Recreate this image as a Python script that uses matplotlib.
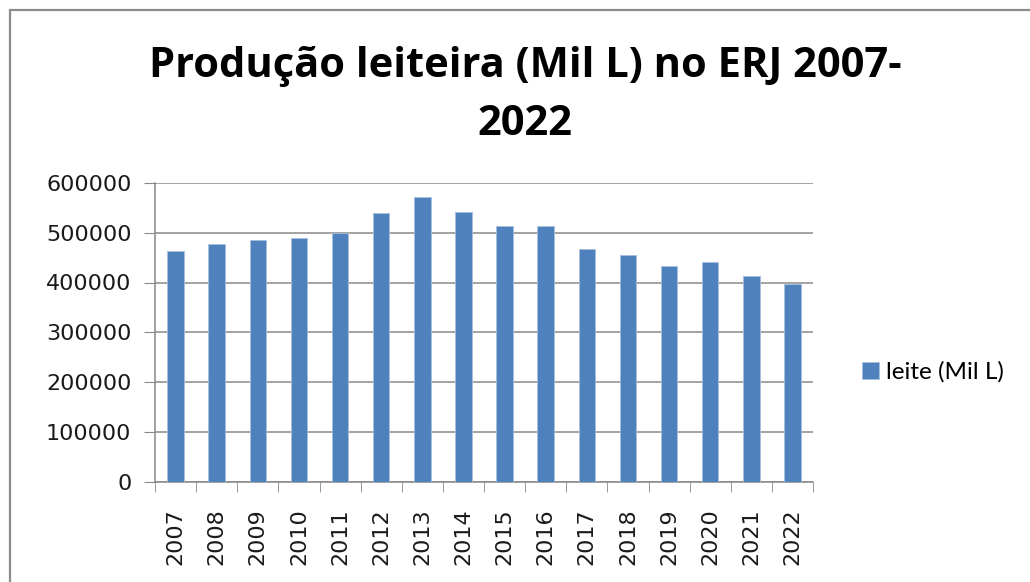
#!/usr/bin/env python3

import matplotlib
matplotlib.use("Agg")
import matplotlib.pyplot as plt
from matplotlib.patches import Rectangle
import numpy as np

years = ["2007", "2008", "2009", "2010", "2011", "2012", "2013", "2014",
         "2015", "2016", "2017", "2018", "2019", "2020", "2021", "2022"]
leite = [464000, 478000, 485000, 490000, 500000, 539000, 571000, 542000,
         514000, 514000, 467000, 456000, 433000, 441000, 413000, 397000]
yticks = [0, 100000, 200000, 300000, 400000, 500000, 600000]


def main():
    fig = plt.figure(figsize=(10.3, 5.82), dpi=100)

    # moldura do gráfico
    fig.patches.append(Rectangle((10 / 1030, -0.05), 1.2, 0.05 + 1 - 10 / 582,
                                 transform=fig.transFigure, fill=False,
                                 edgecolor="#8c8c8c", linewidth=1.6))

    ax = fig.add_axes([155 / 1030, 1 - 481.5 / 582, 658 / 1030, 298.5 / 582])

    x = np.arange(len(years))
    ax.bar(x, leite, width=0.4, color="#4f81bd", edgecolor="#a8c0e0",
           linewidth=0.6, label="leite (Mil L)", zorder=3)

    ax.set_xlim(-0.5, len(years) - 0.5)
    ax.set_ylim(0, 600000)
    ax.set_yticks(yticks)
    ax.set_yticklabels([str(v) for v in yticks], fontsize=16,
                       family="DejaVu Sans", color="#1a1a1a")
    ax.set_xticks(x)
    ax.set_xticklabels(years, rotation=90, fontsize=16,
                       family="DejaVu Sans", color="#1a1a1a")
    ax.tick_params(axis="x", which="major", length=0, pad=19)
    ax.set_xticks(np.arange(len(years) + 1) - 0.5, minor=True)
    ax.tick_params(axis="x", which="minor", length=7, color="#888888",
                   direction="out")
    ax.tick_params(axis="y", length=8, color="#888888", direction="out",
                   pad=9)

    ax.grid(axis="y", color="#8a8a8a", linewidth=1.1, zorder=0)
    for s in ["top", "right"]:
        ax.spines[s].set_visible(False)
    for s in ["left", "bottom"]:
        ax.spines[s].set_color("#888888")
        ax.spines[s].set_linewidth(1.1)

    fig.text(0.51, 1 - 77 / 582, "Produção leiteira (Mil L) no ERJ 2007-",
             ha="center", va="baseline", fontsize=30, fontweight="bold",
             family="Open Sans")
    fig.text(0.51, 1 - 135 / 582, "2022", ha="center", va="baseline",
             fontsize=30, fontweight="bold", family="Open Sans")

    fig.legend(loc="center left", bbox_to_anchor=(840 / 1030, 1 - 372 / 582),
               frameon=False, prop={"family": "Lato", "size": 17.5},
               handlelength=0.7, handleheight=0.7, handletextpad=0.3)

    fig.savefig("out.png", dpi=100)


if __name__ == "__main__":
    main()
